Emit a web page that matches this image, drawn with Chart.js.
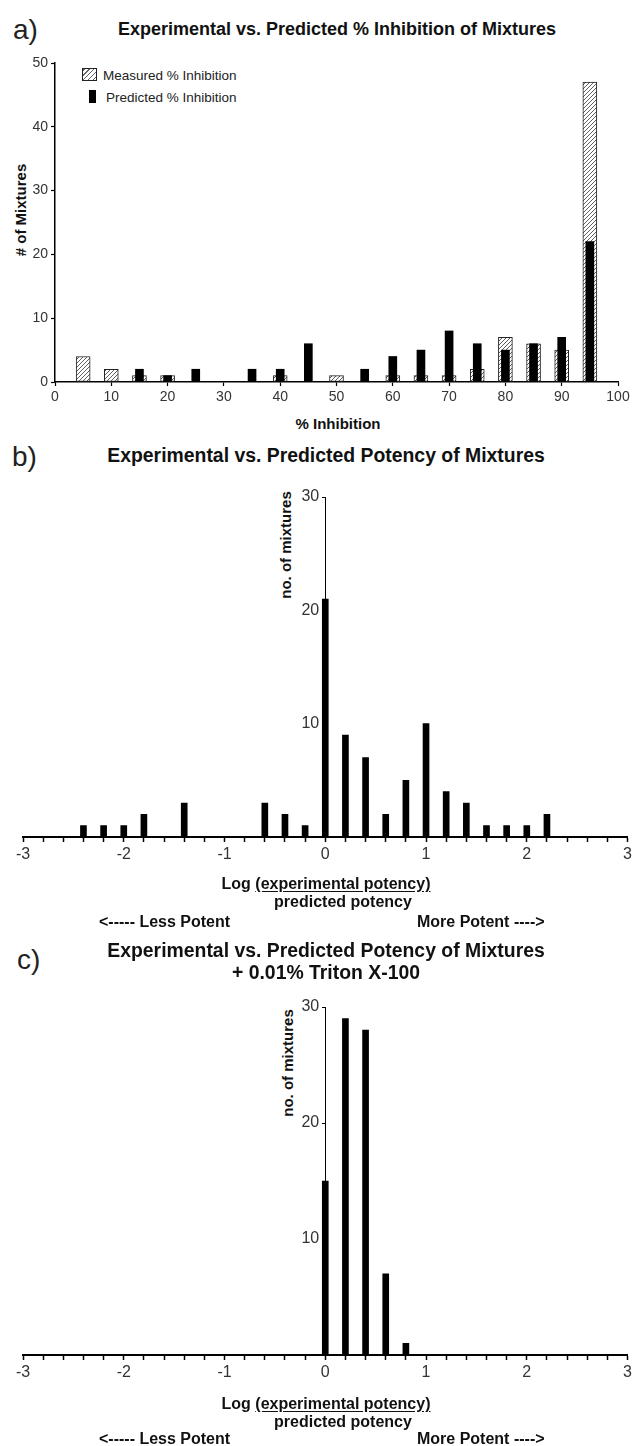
<!DOCTYPE html>
<html>
<head>
<meta charset="utf-8">
<script src="https://cdn.jsdelivr.net/npm/chart.js@4.4.1/dist/chart.umd.min.js"></script>
<style>
  html, body { margin: 0; padding: 0; background: #fff; }
  body {
    width: 635px; height: 1446px; position: relative; overflow: hidden;
    font-family: "Liberation Sans", Arial, Helvetica, sans-serif; color: #111;
  }
  canvas { position: absolute; left: 0; }
  .c  { position: absolute; white-space: nowrap; transform: translate(-50%, -50%); font-weight: bold; }
  .l  { position: absolute; white-space: nowrap; transform: translateY(-50%); }
  .rot { transform: translate(-50%, -50%) rotate(-90deg); }
  .panel { font-size: 28px; font-weight: normal; color: #222; }
  .title { font-size: 19.4px; text-align: center; line-height: 22px; }
  .axt { font-size: 15px; }
  .pot { font-size: 16px; font-weight: bold; }
  .leg { font-size: 13.5px; color: #222; }
  .sw { position: absolute; box-sizing: border-box; }
  .hatch {
    border: 1px solid #222;
    background: repeating-linear-gradient(-45deg, #fff 0 1.5px, #666 1.5px 2.5px, #fff 2.5px 3.5px);
  }
  u { text-underline-offset: 2px; }
</style>
</head>
<body>

<!-- panel a -->
<div class="l panel" style="left:13px; top:30px;">a)</div>
<div class="c title" style="left:337px; top:29px; font-size:18px;">Experimental vs. Predicted % Inhibition of Mixtures</div>
<div class="c axt rot" style="left:20px; top:210px;"># of Mixtures</div>
<div class="c axt" style="left:338px; top:423px;">% Inhibition</div>
<div class="sw hatch" style="left:82px; top:68px; width:15px; height:13px;"></div>
<div class="l leg" style="left:103px; top:75px;">Measured % Inhibition</div>
<div class="sw" style="left:89px; top:90px; width:7px; height:13px; background:#000;"></div>
<div class="l leg" style="left:106px; top:97px;">Predicted % Inhibition</div>
<canvas id="chartA" width="635" height="400" style="top:40px;"></canvas>

<!-- panel b -->
<div class="l panel" style="left:12px; top:457px;">b)</div>
<div class="c title" style="left:326px; top:455px;">Experimental vs. Predicted Potency of Mixtures</div>
<div class="c axt rot" style="left:285px; top:545px;">no. of mixtures</div>
<canvas id="chartB" width="635" height="400" style="top:480px;"></canvas>
<div class="c pot" style="left:326px; top:884px;">Log <u>(experimental potency)</u></div>
<div class="c pot" style="left:343px; top:902px;">predicted potency</div>
<div class="l pot" style="left:99px; top:922px;">&lt;----- Less Potent</div>
<div class="l pot" style="left:417px; top:922px;">More Potent ----&gt;</div>

<!-- panel c -->
<div class="l panel" style="left:17px; top:960px;">c)</div>
<div class="c title" style="left:326px; top:961px;">Experimental vs. Predicted Potency of Mixtures<br>+ 0.01% Triton X-100</div>
<div class="c axt rot" style="left:287px; top:1063px;">no. of mixtures</div>
<canvas id="chartC" width="635" height="420" style="top:990px;"></canvas>
<div class="c pot" style="left:326px; top:1404px;">Log <u>(experimental potency)</u></div>
<div class="c pot" style="left:343px; top:1422px;">predicted potency</div>
<div class="l pot" style="left:99px; top:1439px;">&lt;----- Less Potent</div>
<div class="l pot" style="left:417px; top:1439px;">More Potent ----&gt;</div>

<script>
// a) histogram of % inhibition, bins centred every 5 %
const inhibitionBins  = [5, 10, 15, 20, 25, 30, 35, 40, 45, 50, 55, 60, 65, 70, 75, 80, 85, 90, 95];
const measuredCounts  = [4, 2, 1, 1, 0, 0, 0, 1, 0, 1, 0, 1, 1, 1, 2, 7, 6, 5, 47];
const predictedCounts = [0, 0, 2, 1, 2, 0, 2, 2, 6, 0, 2, 4, 5, 8, 6, 5, 6, 7, 22];

// b) log(experimental / predicted potency)
const potencyBinsB = [-2.4, -2.2, -2.0, -1.8, -1.4, -0.6, -0.4, -0.2, 0, 0.2, 0.4, 0.6, 0.8, 1.0, 1.2, 1.4, 1.6, 1.8, 2.0, 2.2];
const potencyCountsB = [1, 1, 1, 2, 3, 3, 2, 1, 21, 9, 7, 2, 5, 10, 4, 3, 1, 1, 1, 2];

// c) same, + 0.01% Triton X-100
const potencyBinsC = [0, 0.2, 0.4, 0.6, 0.8];
const potencyCountsC = [15, 29, 28, 7, 1];

const FONT = '"Liberation Sans", Arial, Helvetica, sans-serif';

// zero counts are left out so no empty outline is drawn
const toPoints = (xs, ys) => xs.map((x, i) => ({ x: x, y: ys[i] || null }));

function hatchPattern(ctx) {
  const tile = document.createElement('canvas');
  tile.width = 4; tile.height = 4;
  const g = tile.getContext('2d');
  g.fillStyle = '#fff';
  g.fillRect(0, 0, 4, 4);
  g.strokeStyle = '#5e5e5e';
  g.lineWidth = 1;
  g.beginPath();
  g.moveTo(0, 4); g.lineTo(4, 0);
  g.moveTo(-1, 1); g.lineTo(1, -1);
  g.moveTo(3, 5); g.lineTo(5, 3);
  g.stroke();
  return ctx.createPattern(tile, 'repeat');
}

const baseOptions = {
  responsive: false,
  animation: false,
  events: [],
  plugins: { legend: { display: false }, tooltip: { enabled: false } },
};

// ---- a) ----
const ctxA = document.getElementById('chartA').getContext('2d');
new Chart(ctxA, {
  type: 'bar',
  data: {
    datasets: [
      {
        label: 'Predicted % Inhibition',
        data: toPoints(inhibitionBins, predictedCounts),
        backgroundColor: '#000',
        barThickness: 8,
        grouped: false,
        order: 0,
      },
      {
        label: 'Measured % Inhibition',
        data: toPoints(inhibitionBins, measuredCounts),
        backgroundColor: hatchPattern(ctxA),
        borderColor: '#222',
        borderWidth: 1,
        borderSkipped: false,
        barThickness: 14,
        grouped: false,
        order: 1,
      },
    ]
  },
  options: {
    ...baseOptions,
    layout: { padding: { top: 23, right: 17, left: 0, bottom: 0 } },
    scales: {
      x: {
        type: 'linear', min: 0, max: 100, offset: false,
        grid:   { drawOnChartArea: false, offset: false, tickLength: 4, tickColor: '#000', tickWidth: 1.2 },
        border: { color: '#000', width: 1.5 },
        ticks:  { stepSize: 10, autoSkip: false, maxRotation: 0, padding: 3, color: '#333',
                  font: { family: FONT, size: 14 } },
        afterFit: (s) => { s.height = 58; },
      },
      y: {
        min: 0, max: 50,
        grid:   { drawOnChartArea: false, tickLength: 4, tickColor: '#000', tickWidth: 1.2 },
        border: { color: '#000', width: 1.5 },
        ticks:  { stepSize: 10, padding: 3, color: '#333', font: { family: FONT, size: 14 } },
        afterFit: (s) => { s.width = 55; },
      }
    }
  }
});

// ---- b) and c) share the same look ----
function potencyChart(id, bins, counts, padTop, axisHeight) {
  new Chart(document.getElementById(id), {
    type: 'bar',
    data: {
      datasets: [{
        label: 'no. of mixtures',
        data: toPoints(bins, counts),
        backgroundColor: '#000',
        barThickness: 6,
      }]
    },
    options: {
      ...baseOptions,
      layout: { padding: { top: padTop, right: 6, left: 23, bottom: 0 } },
      scales: {
        x: {
          type: 'linear', min: -3, max: 3, offset: false,
          grid:   { drawOnChartArea: false, offset: false, tickLength: 5, tickColor: '#000', tickWidth: 1.5 },
          border: { color: '#000', width: 2 },
          ticks:  {
            stepSize: 0.2, autoSkip: false, maxRotation: 0, padding: 3, color: '#333',
            font: { family: FONT, size: 16 },
            callback: (v) => Math.abs(v - Math.round(v)) < 1e-6 ? String(Math.round(v)) : '',
          },
          afterFit: (s) => { s.height = axisHeight; },
        },
        // axis line and tick marks crossing x = 0
        y: {
          min: 0, max: 30,
          position: { x: 0 },
          grid:   { drawOnChartArea: false, tickLength: 3, tickColor: '#000', tickWidth: 1 },
          border: { color: '#000', width: 1 },
          ticks:  { stepSize: 10, display: false },
        },
        // tick labels only, set just left of the axis line
        yLabels: {
          type: 'linear', axis: 'y',
          min: 0, max: 30,
          position: { x: -0.06 },
          grid:   { display: false },
          border: { display: false },
          ticks:  {
            stepSize: 10, color: '#333',
            font: { family: FONT, size: 16 },
            callback: (v) => v === 0 ? '' : v,
          },
        }
      }
    }
  });
}

potencyChart('chartB', potencyBinsB, potencyCountsB, 17, 43);
potencyChart('chartC', potencyBinsC, potencyCountsC, 17, 55);
</script>
</body>
</html>
